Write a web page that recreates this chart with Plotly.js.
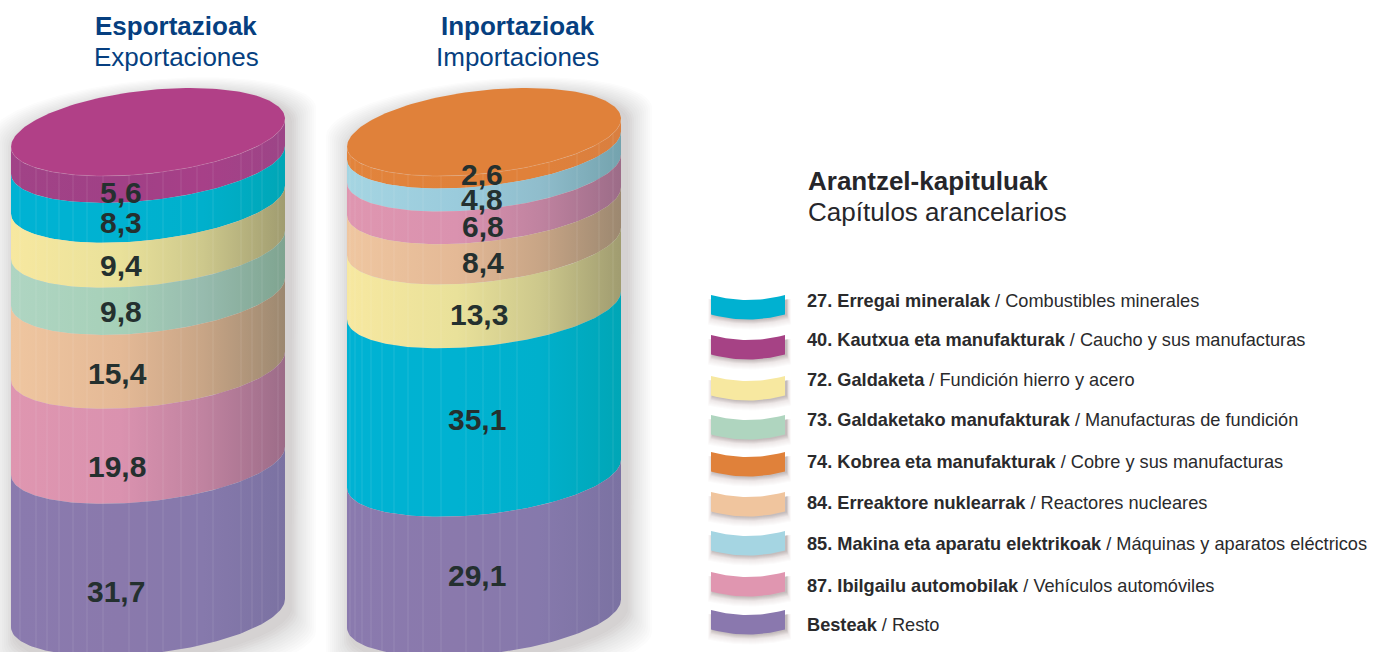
<!DOCTYPE html>
<html>
<head>
<meta charset="utf-8">
<script src="https://cdn.plot.ly/plotly-3.0.1.min.js"></script>
<style>html,body{margin:0;padding:0;background:#fff}#chart{width:1382px;height:652px}</style>
</head>
<body>
<div id="chart"></div>
<script>
// ---------- data ----------
const exportCodes = ['40','27','72','73','84','87','R'];
const exportValues = [5.6,8.3,9.4,9.8,15.4,19.8,31.7];
const exportLabels = ['5,6','8,3','9,4','9,8','15,4','19,8','31,7'];
const importCodes = ['74','85','87','84','72','27','R'];
const importValues = [2.6,4.8,6.8,8.4,13.3,35.1,29.1];
const importLabels = ['2,6','4,8','6,8','8,4','13,3','35,1','29,1'];

const legendCodes = ['27','40','72','73','74','84','85','87','R'];
const legendBold = ['27. Erregai mineralak','40. Kautxua eta manufakturak','72. Galdaketa','73. Galdaketako manufakturak','74. Kobrea eta manufakturak','84. Erreaktore nuklearrak','85. Makina eta aparatu elektrikoak','87. Ibilgailu automobilak','Besteak'];
const legendPlain = ['Combustibles minerales','Caucho y sus manufacturas','Fundición hierro y acero','Manufacturas de fundición','Cobre y sus manufacturas','Reactores nucleares','Máquinas y aparatos eléctricos','Vehículos automóviles','Resto'];

// ---------- styles ----------
const flat = {'27':'#00B1D1','40':'#A64285','72':'#F7E8A0','73':'#AFD5BF','74':'#E0813A','84':'#F0C59E','85':'#A5D5E2','87':'#E096B0','R':'#8A78AE'};
const faceColor = {'40':'#B14087','74':'#E0813A'};
const ramp = {
  '27':['#00B2D3','#00B2D1','#00B0CC','#00A6B6'],
  '40':['#A14387','#A04086','#A74088','#9C4587'],
  '72':['#F7E8A0','#E9E19A','#CDC88C','#A09C70'],
  '73':['#AFD5C2','#A6D0B8','#97BBAE','#7FA490'],
  '74':['#E2843C','#E0813A','#E0813A','#D97F40'],
  '84':['#EFC6A0','#E4B996','#C8A586','#9C8870'],
  '85':['#A5D5E2','#9ACBDC','#90BDCC','#74A3AE'],
  '87':['#DF96B0','#DA92AF','#C083A0','#9C6C88'],
  'R': ['#8A7AAE','#8A79AC','#8679AC','#7B72A2']
};
const pxPerUnit = 4.8, frontY = 176;           // vertical scale: one percentage point = 4.8 px
const U = py => (py - frontY) / pxPerUnit;     // pixel row -> stack axis
const halfW = 137, tilt = 14, minorFront = 40.7, minorBack = 42.8, lowGap = 43;
const cylX = [148, 484];
const ribX = [[20,36,47,59,73,87,103,129,147,163,181,197,213,241,252,262,278],
              [350,355,362,371,382,394,408,423,441,466,483,500,517,549,577,599,613]];
// label tweaks relative to band mid, px
const labelDy = [[3,0,0,0,2,10,12],[-8,-1,-1,-2,-2,-13,-11]];
const labelX = [[121,121,121,121,117,117,116],[482,482,483,483,479,477,477]];

const N = 90;
const traces = [], annotations = [];
const fillTrace = (x,y,color,extra) => Object.assign({x,y,type:'scatter',mode:'lines',fill:'toself',fillcolor:color,line:{width:0},hoverinfo:'skip',showlegend:false},extra||{});

// curves of the tilted ellipse, px offset from its lowest point
function front(u){ return -lowGap - tilt*u + minorFront*Math.sqrt(Math.max(0,1-u*u)); }
function back(u){ return -lowGap - tilt*u - minorBack*Math.sqrt(Math.max(0,1-u*u)); }
const us = Array.from({length:N+1},(_,i)=>Math.cos(Math.PI*(1-i/N)));

function cylinder(idx, codes, values, labels){
  const cx = cylX[idx];
  const total = values.reduce((a,b)=>a+b,0);
  // soft shadow
  for(let d=26;d>=2;d-=2){
    const xs=[],ys=[];
    us.forEach(u=>{xs.push(cx+5+u*(halfW+d)); ys.push(U(frontY+5+back(u)-d*0.6));});
    us.slice().reverse().forEach(u=>{xs.push(cx+5+u*(halfW+d)); ys.push(total+U(frontY+6+front(u)+d));});
    const a = 0.014 + (d<10?0.012:0);
    traces.push(fillTrace(xs,ys,`rgba(95,75,75,${a})`));
  }
  // bands
  let cum = 0;
  values.forEach((v,i)=>{
    const next = cum+v, xs=[], ys=[];
    us.forEach(u=>{xs.push(cx+u*halfW); ys.push(cum+front(u)/pxPerUnit);});
    us.slice().reverse().forEach(u=>{xs.push(cx+u*halfW); ys.push(next+front(u)/pxPerUnit);});
    const r = ramp[codes[i]];
    traces.push(fillTrace(xs,ys,flat[codes[i]],{fillgradient:{type:'horizontal',colorscale:[[0,r[0]],[0.4,r[1]],[0.7,r[2]],[1,r[3]]]}}));
    annotations.push({x:labelX[idx][i],y:cum+v/2,xref:'x',yref:'y',yshift:-labelDy[idx][i],text:'<b>'+labels[i]+'</b>',showarrow:false,xanchor:'center',yanchor:'middle',font:{family:'Liberation Sans, Arial, sans-serif',size:30,color:'#24302F'}});
    cum = next;
  });
  // vertical ribs
  const rx=[],ry=[];
  ribX[idx].forEach(x=>{
    const u=(x-cx)/halfW;
    rx.push(x,x,null); ry.push(front(u)/pxPerUnit, total+front(u)/pxPerUnit, null);
  });
  traces.push({x:rx,y:ry,type:'scatter',mode:'lines',line:{color:'rgba(255,255,255,0.11)',width:1},hoverinfo:'skip',showlegend:false});
  // top face
  const fx=[],fy=[];
  us.forEach(u=>{fx.push(cx+u*halfW); fy.push(back(u)/pxPerUnit);});
  us.slice().reverse().forEach(u=>{fx.push(cx+u*halfW); fy.push(front(u)/pxPerUnit);});
  traces.push(fillTrace(fx,fy,faceColor[codes[0]]));
  const ex=[],ey=[];
  us.forEach(u=>{ex.push(cx+u*halfW); ey.push(front(u)/pxPerUnit);});
  traces.push({x:ex,y:ey,type:'scatter',mode:'lines',line:{color:'rgba(255,255,255,0.13)',width:1},hoverinfo:'skip',showlegend:false});
}
cylinder(0, exportCodes, exportValues, exportLabels);
cylinder(1, importCodes, importValues, importLabels);

// ---------- legend ----------
const swatchTop = [295,335,376,415,452,492,531,572,610];
const swatchTextY = [301,340,380,420,462,503,544,586,625];
const sx0 = 711, sx1 = 785, sH = 19.5;
legendCodes.forEach((c,i)=>{
  const sag = u => 5*(1-u*u);
  const vs = Array.from({length:31},(_,k)=>-1+2*k/30);
  const sw = (dx,topGrow,botGrow,sideGrow) => {
    const xs=[],ys=[];
    vs.forEach(u=>{xs.push((sx0+sx1)/2+dx+u*((sx1-sx0)/2+sideGrow)); ys.push(U(swatchTop[i]-topGrow+sag(u)));});
    vs.slice().reverse().forEach(u=>{xs.push((sx0+sx1)/2+dx+u*((sx1-sx0)/2+sideGrow)); ys.push(U(swatchTop[i]+sH+botGrow+sag(u)));});
    return [xs,ys];
  };
  for(let g=10;g>=1;g--){
    const [xs,ys]=sw(1.5,-4,g,g*0.45);
    traces.push(fillTrace(xs,ys,`rgba(85,65,65,${g<5?0.07:0.02})`));
  }
  const [xs,ys]=sw(0,0,0,0);
  traces.push(fillTrace(xs,ys,flat[c]));
  annotations.push({x:805,y:U(swatchTextY[i]),xref:'x',yref:'y',xanchor:'left',yanchor:'middle',showarrow:false,
    text:'<b>'+legendBold[i]+'</b> / '+legendPlain[i],font:{family:'Liberation Sans, Arial, sans-serif',size:18.2,color:'#2A2A2C'}});
});

// ---------- headings ----------
const head = (x,py,text,size,color,anchor) => annotations.push({x,y:U(py),xref:'x',yref:'y',xanchor:anchor,yanchor:'middle',showarrow:false,text,font:{family:'Liberation Sans, Arial, sans-serif',size,color}});
head(176,26,'<b>Esportazioak</b>',26,'#063F80','center');
head(176,57,'Exportaciones',26,'#063F80','center');
head(517.5,26,'<b>Inportazioak</b>',26,'#063F80','center');
head(517.5,57,'Importaciones',26,'#063F80','center');
head(806,181,'<b>Arantzel-kapituluak</b>',26,'#26262A','left');
head(806,212,'Capítulos arancelarios',26,'#26262A','left');

const layout = {
  width:1382,height:652,margin:{l:0,r:0,t:0,b:0},paper_bgcolor:'#fff',plot_bgcolor:'#fff',showlegend:false,
  xaxis:{range:[0,1382],visible:false,fixedrange:true},
  yaxis:{range:[U(652),U(0)],visible:false,fixedrange:true},
  annotations
};
Plotly.newPlot('chart',traces,layout,{displayModeBar:false,staticPlot:true});
</script>
</body>
</html>
